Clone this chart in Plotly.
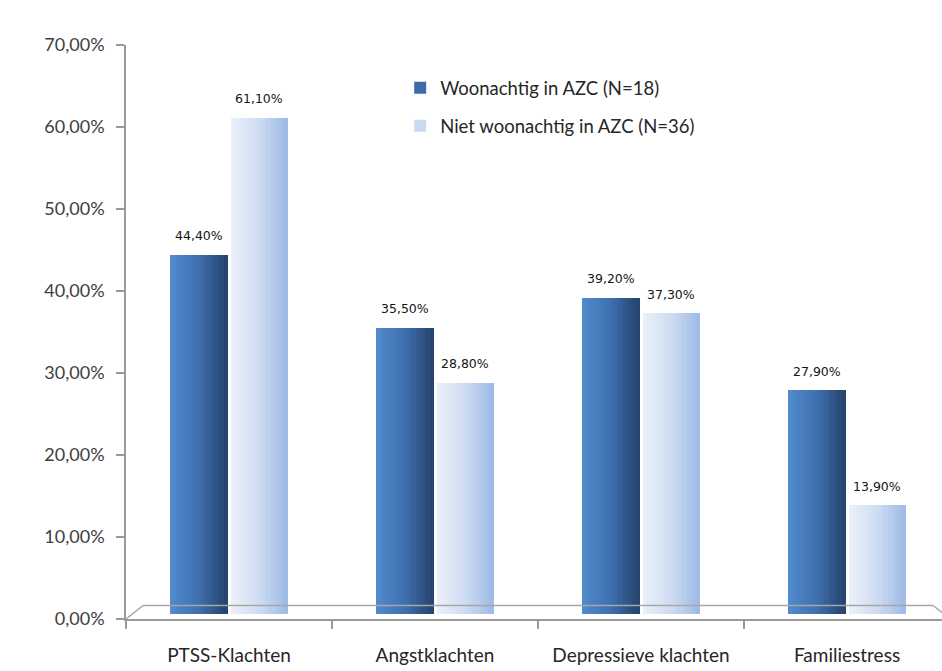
import plotly.graph_objects as go

# Data
categories = ["PTSS-Klachten", "Angstklachten", "Depressieve klachten", "Familiestress"]
series_names = ["Woonachtig in AZC (N=18)", "Niet woonachtig in AZC (N=36)"]
woonachtig = [44.40, 35.50, 39.20, 27.90]
niet_woonachtig = [61.10, 28.80, 37.30, 13.90]
y_ticks = [0, 10, 20, 30, 40, 50, 60, 70]


def lerp_color(c1, c2, t):
    a = [int(c1[i:i + 2], 16) for i in (1, 3, 5)]
    b = [int(c2[i:i + 2], 16) for i in (1, 3, 5)]
    return "#" + "".join(f"{round(a[k] + (b[k] - a[k]) * t):02x}" for k in range(3))


# Each bar is rendered as thin vertical slices to imitate the shaded cylinder look
series = [
    dict(name=series_names[0], values=woonachtig, start=-0.285, c_left="#5089cc", c_mid="#3f6fae", c_right="#26456f"),
    dict(name=series_names[1], values=niet_woonachtig, start=0.008, c_left="#eaf0f9", c_mid="#cddcf2", c_right="#9fbbe6"),
]
bar_w = 0.278
n_slices = 16
base = 0.006

fig = go.Figure()
for s in series:
    yvals = [v / 100 - base for v in s["values"]]
    for k in range(n_slices):
        t = k / (n_slices - 1)
        if t < 0.5:
            col = lerp_color(s["c_left"], s["c_mid"], t / 0.5)
        else:
            col = lerp_color(s["c_mid"], s["c_right"], (t - 0.5) / 0.5)
        fig.add_trace(go.Bar(
            x=categories, y=yvals, base=base,
            offset=s["start"] + bar_w * k / n_slices,
            width=bar_w / n_slices + 0.002,
            marker=dict(color=col, line=dict(width=0)),
            name=s["name"], legendgroup=s["name"],
            showlegend=(k == n_slices // 2),
            hoverinfo="skip",
        ))

# Value labels above each bar
annotations = []
for s in series:
    for i, v in enumerate(s["values"]):
        annotations.append(dict(
            x=i + s["start"] + bar_w / 2, y=v / 100, xref="x", yref="y",
            text=f"{v:.2f}%".replace(".", ","), showarrow=False,
            yshift=19, font=dict(family="DejaVu Sans", size=12.5, color="#141414"),
        ))

# Floor of the plot (front edge is the x axis line)
floor_col = "#a6a6a6"
shapes = [
    dict(type="line", xref="paper", yref="y", x0=0, y0=0, x1=0.021, y1=0.0165,
         line=dict(color=floor_col, width=1.5)),
    dict(type="line", xref="paper", yref="y", x0=0.021, y0=0.0165, x1=0.989, y1=0.0165,
         line=dict(color=floor_col, width=1.5)),
    dict(type="line", xref="paper", yref="y", x0=0.989, y0=0.0165, x1=1.0, y1=0.008,
         line=dict(color=floor_col, width=1.5)),
]

fig.update_layout(
    width=942, height=671,
    margin=dict(l=126, r=0, t=45, b=52),
    paper_bgcolor="white", plot_bgcolor="white",
    barmode="overlay", bargap=0,
    separators=",.",
    font=dict(family="Lato", size=16, color="#404040"),
    showlegend=True,
    legend=dict(
        x=0.336, y=0.958, xanchor="left", yanchor="top",
        traceorder="grouped", tracegroupgap=11,
        font=dict(family="Lato", size=18.5, color="#262626"),
        bgcolor="rgba(0,0,0,0)", itemwidth=30,
    ),
    annotations=annotations,
    shapes=shapes,
    xaxis=dict(
        type="category", range=[-0.5, 3.461],
        showline=True, linecolor="#9a9a9a", linewidth=1.5,
        ticks="outside", tickson="boundaries", ticklen=8, tickcolor="#9a9a9a", tickwidth=1.5,
        showgrid=False, zeroline=False,
        tickfont=dict(family="Lato", size=19, color="#262626"),
        ticklabelstandoff=18,
    ),
    yaxis=dict(
        range=[0, 0.70], tickvals=[v / 100 for v in y_ticks], tickformat=".2%",
        showline=True, linecolor="#9a9a9a", linewidth=1.5,
        ticks="outside", ticklen=8, tickcolor="#9a9a9a", tickwidth=1.5,
        showgrid=False, zeroline=False,
        tickfont=dict(family="Lato", size=18, color="#404040"),
        ticklabelstandoff=8,
    ),
)

fig.write_html("out.html")
